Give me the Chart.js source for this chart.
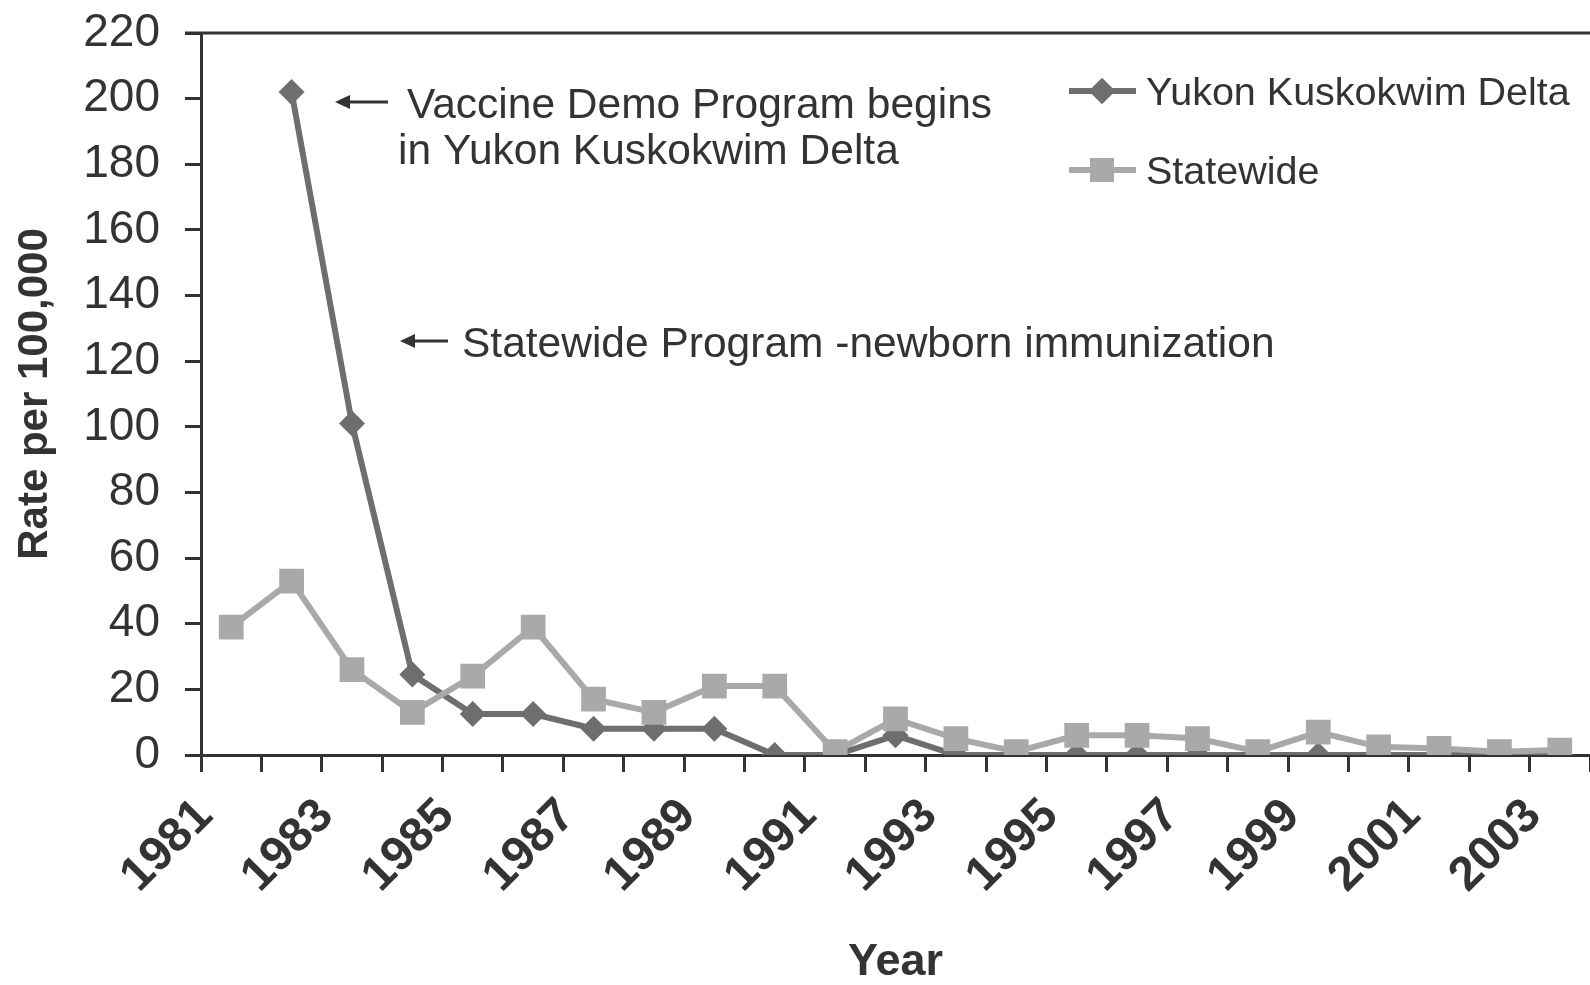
<!DOCTYPE html>
<html>
<head>
<meta charset="utf-8">
<title>Rate per 100,000 by year</title>
<script src="https://cdn.jsdelivr.net/npm/chart.js@4.4.0/dist/chart.umd.min.js"></script>
<style>
  html, body { margin: 0; padding: 0; background: #fff; }
  #chart { display: block; }
</style>
</head>
<body>
<canvas id="chart" width="1590" height="985"></canvas>
<script>
const years = ['1981', '1982', '1983', '1984', '1985', '1986', '1987', '1988', '1989', '1990', '1991', '1992',
               '1993', '1994', '1995', '1996', '1997', '1998', '1999', '2000', '2001', '2002', '2003'];
const yukonRates = [null, 202, 101, 24.5, 12.5, 12.5, 8, 8, 8, 0, 0, 6, 0, 0, 0, 0, 0, 0, 0, 0, 0, 0, 0];
const statewideRates = [39, 53, 26, 13, 24, 39, 17, 13, 21, 21, 1, 11, 5, 1, 6, 6, 5, 1, 7, 2.5, 2, 1, 1.5];
const rateTicks = [0, 20, 40, 60, 80, 100, 120, 140, 160, 180, 200, 220];

const TEXT = '#333333';
const AXIS = '#333333';
const YUKON = '#6e6e6e';
const STATE = '#a9a9a9';
const FONT = '"Liberation Sans", Arial, sans-serif';

// arrows + notes, and the legend sitting inside the plot
const notes = {
    id: 'notes',
    afterDatasetsDraw(chart) {
        const ctx = chart.ctx;
        const area = chart.chartArea;
        ctx.save();

        // top frame line
        ctx.strokeStyle = AXIS;
        ctx.lineWidth = 3;
        ctx.beginPath();
        ctx.moveTo(area.left - 16, area.top);
        ctx.lineTo(area.right, area.top);
        ctx.stroke();

        ctx.fillStyle = TEXT;
        ctx.font = '42.5px ' + FONT;
        ctx.textBaseline = 'alphabetic';
        ctx.textAlign = 'left';
        ctx.fillText('Vaccine Demo Program begins', 407, 118);
        ctx.fillText('in Yukon Kuskokwim Delta', 398, 164);
        ctx.fillText('Statewide Program -newborn immunization', 462, 357);

        arrow(ctx, 388, 335, 102);
        arrow(ctx, 448, 400, 341);

        // legend
        ctx.font = '39.5px ' + FONT;
        const rows = [
            { label: 'Yukon Kuskokwim Delta', color: YUKON, style: 'rectRot', radius: 13, y: 91 },
            { label: 'Statewide', color: STATE, style: 'rect', radius: 17, y: 170 }
        ];
        rows.forEach(r => {
            ctx.strokeStyle = r.color;
            ctx.lineWidth = 6;
            ctx.beginPath();
            ctx.moveTo(1069, r.y);
            ctx.lineTo(1136, r.y);
            ctx.stroke();
            ctx.fillStyle = r.color;
            Chart.helpers.drawPoint(ctx, { pointStyle: r.style, radius: r.radius, borderWidth: 0 }, 1102, r.y);
            ctx.fill();
            ctx.fillStyle = TEXT;
            ctx.fillText(r.label, 1146, r.y + 14);
        });
        ctx.restore();
    }
};

function arrow(ctx, x1, x2, y) {
    ctx.strokeStyle = TEXT;
    ctx.fillStyle = TEXT;
    ctx.lineWidth = 3;
    ctx.beginPath();
    ctx.moveTo(x1, y);
    ctx.lineTo(x2 + 10, y);
    ctx.stroke();
    ctx.beginPath();
    ctx.moveTo(x2, y);
    ctx.lineTo(x2 + 15, y - 7);
    ctx.lineTo(x2 + 15, y + 7);
    ctx.closePath();
    ctx.fill();
}

new Chart(document.getElementById('chart'), {
    type: 'line',
    data: {
        labels: years,
        datasets: [
            {
                label: 'Statewide',
                data: statewideRates,
                borderColor: STATE,
                backgroundColor: STATE,
                borderWidth: 6,
                pointStyle: 'rect',
                pointRadius: 17.5,
                pointBorderWidth: 0,
                tension: 0
            },
            {
                label: 'Yukon Kuskokwim Delta',
                data: yukonRates,
                borderColor: YUKON,
                backgroundColor: YUKON,
                borderWidth: 6,
                pointStyle: 'rectRot',
                pointRadius: 13,
                pointBorderWidth: 0,
                tension: 0
            }
        ]
    },
    options: {
        responsive: false,
        animation: false,
        devicePixelRatio: 1,
        layout: { autoPadding: false, padding: { top: 33, right: 0, bottom: 0, left: 0 } },
        plugins: {
            legend: { display: false },
            tooltip: { enabled: false }
        },
        scales: {
            x: {
                type: 'category',
                offset: true,
                grid: {
                    offset: true,
                    drawOnChartArea: false,
                    drawTicks: true,
                    tickLength: 17,
                    tickWidth: 3,
                    tickColor: AXIS
                },
                border: { display: true, color: AXIS, width: 3 },
                ticks: {
                    autoSkip: false,
                    minRotation: 45,
                    maxRotation: 45,
                    padding: 16,
                    labelOffset: -26,
                    color: TEXT,
                    font: { family: FONT, size: 48, weight: 'bold' },
                    callback: (v, i) => (i % 2 === 0 ? years[i] : '')
                },
                title: {
                    display: true,
                    text: 'Year',
                    color: TEXT,
                    font: { family: FONT, size: 45, weight: 'bold', lineHeight: 1 },
                    padding: { top: 0, bottom: 0 }
                },
                afterFit(scale) {
                    scale.height = 230;
                    scale.paddingLeft = 0;
                    scale.paddingRight = 0;
                }
            },
            y: {
                min: 0,
                max: 220,
                afterBuildTicks(scale) {
                    scale.ticks = rateTicks.map(v => ({ value: v }));
                },
                grid: {
                    drawOnChartArea: false,
                    drawTicks: true,
                    tickLength: 16,
                    tickWidth: 3,
                    tickColor: AXIS
                },
                border: { display: true, color: AXIS, width: 3 },
                ticks: {
                    padding: 25,
                    color: TEXT,
                    font: { family: FONT, size: 46 }
                },
                title: {
                    display: true,
                    text: 'Rate per 100,000',
                    color: TEXT,
                    font: { family: FONT, size: 42, weight: 'bold', lineHeight: 1 },
                    padding: { top: 14, bottom: 0 }
                },
                afterFit(scale) {
                    scale.width = 201;
                    scale.paddingTop = 0;
                    scale.paddingBottom = 0;
                }
            }
        }
    },
    plugins: [notes]
});
</script>
</body>
</html>
